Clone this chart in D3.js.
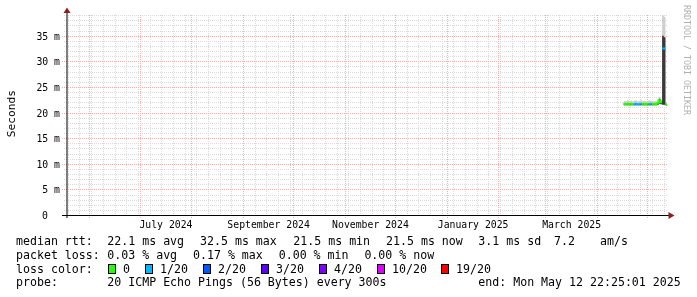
<!DOCTYPE html>
<html>
<head>
<meta charset="utf-8">
<script src="https://cdn.jsdelivr.net/npm/d3@7"></script>
<style>
body { margin: 0; background: #fff; }
svg { will-change: transform; }
text { font-family: "DejaVu Sans Mono", monospace; white-space: pre; }
</style>
</head>
<body>
<svg id="chart" width="697" height="297"></svg>
<script>
// days with data (daily consolidation of the 300s pings)
const days = ['2025-04-17', '2025-04-18', '2025-04-19', '2025-04-20', '2025-04-21', '2025-04-22',
    '2025-04-23', '2025-04-24', '2025-04-25', '2025-04-26', '2025-04-27',
    '2025-04-28', '2025-04-29', '2025-04-30', '2025-05-01',
    '2025-05-02', '2025-05-03',
    '2025-05-04', '2025-05-05', '2025-05-06', '2025-05-07',
    '2025-05-08', '2025-05-09',
    '2025-05-10', '2025-05-11',
    '2025-05-12'];
const medianMs = [21.7, 21.6, 21.7, 21.6, 21.7, 21.6,
    21.6, 21.7, 21.6, 21.6, 21.7,
    21.6, 21.7, 21.6, 21.7,
    21.6, 21.7,
    21.6, 21.7, 21.6, 21.8,
    22.4, 22.0,
    32.5, 32.5,
    21.5];
const lossCount = [0, 0, 0, 0, 0, 0,
    1, 1, 1, 1, 1,
    0, 0, 0, 0,
    1, 1,
    0, 0, 0, 0,
    0, 0,
    1, 1,
    0];
const smokeLoMs = [21.4, 21.4, 21.4, 21.4, 21.4, 21.4,
    21.4, 21.4, 21.4, 21.4, 21.4,
    21.4, 21.4, 21.4, 21.4,
    21.4, 21.4,
    21.4, 21.4, 21.4, 21.5,
    21.7, 21.6,
    21.5, 21.5,
    21.4];
const smokeCoreMs = [21.8, 21.7, 21.8, 21.7, 21.8, 21.7,
    21.7, 21.8, 21.7, 21.7, 21.8,
    21.7, 21.8, 21.7, 21.8,
    21.7, 21.8,
    21.7, 21.8, 21.7, 21.9,
    22.7, 22.2,
    35.0, 34.7,
    21.6];
const smokeHiMs = [22.3, 22.2, 22.4, 22.2, 22.3, 22.2,
    22.3, 22.4, 22.2, 22.3, 22.4,
    22.2, 22.3, 22.2, 22.3,
    22.4, 22.3,
    22.2, 22.3, 22.2, 22.5,
    23.0, 22.6,
    39.0, 38.7,
    22.0];

const yTicksMs = [0, 5, 10, 15, 20, 25, 30, 35];
const monthLabels = ['2024-07', '2024-09', '2024-11', '2025-01', '2025-03'];

const lossLevels = ['0', '1/20', '2/20', '3/20', '4/20', '10/20', '19/20'];
const lossColors = ['#26ff00', '#00b8ff', '#0059ff', '#5e00ff', '#7e00ff', '#dd00ff', '#ff0000'];

const rttLegend = ['median rtt:', '22.1 ms avg', '32.5 ms max', '21.5 ms min', '21.5 ms now', '3.1 ms sd', '7.2', 'am/s'];
const lossLegend = ['packet loss:', '0.03 % avg', '0.17 % max', '0.00 % min', '0.00 % now'];
const probeLegend = ['probe:', '20 ICMP Echo Pings (56 Bytes) every 300s', 'end: Mon May 12 22:25:01 2025'];

const svg = d3.select('#chart');
const parseDay = d3.timeParse('%Y-%m-%d');
const parseMonth = d3.timeParse('%Y-%m');

const start = new Date(2024, 4, 17, 22, 25, 1);
const end = new Date(2025, 4, 12, 22, 25, 1);
const x = d3.scaleTime().domain([start, end]).range([66, 667]);
const y = d3.scaleLinear().domain([0, 39.04]).range([215, 15]);
const crisp = (v) => Math.round(v) + 0.5;

var data = days.map((d, i) => ({
    t: parseDay(d),
    next: i < days.length - 1 ? parseDay(days[i + 1]) : end,
    m: medianMs[i],
    loss: lossCount[i],
    lo: smokeLoMs[i],
    core: smokeCoreMs[i],
    hi: smokeHiMs[i],
}));

// grid
var grid = svg.append('g').attr('fill', 'none').attr('stroke-dasharray', '1,1').attr('stroke-width', 1);
var majorY = y.ticks(8);
grid.selectAll('line.minY')
    .data(y.ticks(40).filter((v) => v > 0 && majorY.indexOf(v) < 0))
    .join('line')
    .attr('x1', 64).attr('x2', 667)
    .attr('y1', (d) => crisp(y(d))).attr('y2', (d) => crisp(y(d)))
    .attr('stroke', '#dadada');
grid.selectAll('line.minX')
    .data(x.ticks(d3.timeWeek))
    .join('line')
    .attr('x1', (d) => crisp(x(d))).attr('x2', (d) => crisp(x(d)))
    .attr('y1', 15).attr('y2', 217)
    .attr('stroke', '#dadada');
grid.selectAll('line.majX')
    .data(x.ticks(d3.timeMonth))
    .join('line')
    .attr('x1', (d) => crisp(x(d))).attr('x2', (d) => crisp(x(d)))
    .attr('y1', 15).attr('y2', 218)
    .attr('stroke', '#f5b0b0');
grid.selectAll('line.majY')
    .data(majorY.filter((v) => v > 0))
    .join('line')
    .attr('x1', 62).attr('x2', 667)
    .attr('y1', (d) => crisp(y(d))).attr('y2', (d) => crisp(y(d)))
    .attr('stroke', '#f5b0b0');

// smoke
var band = (lo, hi) => d3.area()
    .x((p) => x(p.t))
    .y0((p) => y(p[lo]))
    .y1((p) => y(p[hi]));
var flat = data.flatMap((d) => [{ ...d }, { ...d, t: d.next }]);
svg.append('path').attr('d', band('lo', 'hi')(flat)).attr('fill', '#cfcfcf');
svg.append('path').attr('d', band('lo', 'core')(flat)).attr('fill', '#3a3a3a');

// median, coloured by loss
var line = d3.line().x((p) => x(p.t)).y((p) => y(p.v));
var colorOf = (loss) => lossColors[lossLevels.indexOf(loss == 0 ? '0' : loss + '/20')];
svg.append('g').attr('fill', 'none').attr('stroke-width', 2)
    .selectAll('path')
    .data(data)
    .join('path')
    .attr('stroke', (d) => colorOf(d.loss))
    .attr('d', (d, i) => {
        var pts = [{ t: d.t, v: d.m }, { t: d.next, v: d.m }];
        var prev = data[i - 1];
        if (prev && prev.loss == d.loss) pts.unshift({ t: d.t, v: prev.m });
        return line(pts);
    });

// axes
var yAxis = svg.append('g')
    .attr('transform', 'translate(60,0)')
    .call(d3.axisLeft(y).tickValues(yTicksMs).tickSize(0).tickPadding(0)
        .tickFormat((d) => (d == 0 ? '0' : d + ' m')));
yAxis.select('.domain').remove();
yAxis.selectAll('text')
    .attr('x', (d) => (d == 0 ? -12 : 0))
    .attr('dy', '0.36em')
    .attr('fill', '#000')
    .style('font-size', '9.8px')
    .style('font-family', '"DejaVu Sans Mono", monospace');

var midMonth = (s) => {
    var a = parseMonth(s);
    return new Date((+a + +d3.timeMonth.offset(a, 1)) / 2);
};
var xAxis = svg.append('g')
    .attr('transform', 'translate(0,215)')
    .call(d3.axisBottom(x).tickValues(monthLabels.map(midMonth)).tickSize(0)
        .tickFormat(d3.timeFormat('%B %Y')));
xAxis.select('.domain').remove();
xAxis.selectAll('text')
    .attr('y', 12.6)
    .attr('dy', null)
    .attr('fill', '#000')
    .style('font-size', '9.8px')
    .style('font-family', '"DejaVu Sans Mono", monospace');

svg.append('line').attr('x1', 67).attr('x2', 67).attr('y1', 218).attr('y2', 12).attr('stroke', '#000');
svg.append('line').attr('x1', 62).attr('x2', 670).attr('y1', 215.5).attr('y2', 215.5).attr('stroke', '#000');
svg.append('path').attr('d', 'M63.5,13L70.5,13L67,7.5Z').attr('fill', '#8c1f1f');
svg.append('path').attr('d', 'M668.5,212L668.5,219L674.5,215.5Z').attr('fill', '#8c1f1f');

svg.append('text')
    .attr('transform', 'translate(11,113.7) rotate(-90)')
    .attr('text-anchor', 'middle')
    .attr('dominant-baseline', 'central')
    .style('font-size', '11.2px')
    .text('Seconds');

svg.append('text')
    .attr('transform', 'translate(687,5) rotate(90)')
    .attr('dominant-baseline', 'central')
    .attr('fill', '#b0b0b0')
    .style('font-size', '8.3px')
    .text('RRDTOOL / TOBI OETIKER');

// legend
var legend = svg.append('g').style('font-size', '11.6px').attr('fill', '#000');
var addRow = (items, xs, yb) => legend.append('g').selectAll('text')
    .data(items)
    .join('text')
    .attr('x', (d, i) => xs[i])
    .attr('y', yb)
    .text((d) => d);
addRow(rttLegend, [16, 107.3, 200, 293.3, 386, 478.3, 554, 600], 245.3);
addRow(lossLegend, [16, 107.3, 193, 278.7, 364.4], 258.9);
addRow(['loss color:'], [16], 272.6);
addRow(probeLegend, [16, 107.3, 478.3], 286.2);

var boxX = [108.5, 145.5, 203.5, 261.5, 319.5, 377.5, 441.5];
var sw = legend.append('g').selectAll('g')
    .data(lossLevels)
    .join('g')
    .attr('transform', (d, i) => 'translate(' + boxX[i] + ',0)');
sw.append('rect')
    .attr('x', 0).attr('y', 264.5).attr('width', 7).attr('height', 9)
    .attr('fill', (d, i) => lossColors[i])
    .attr('stroke', '#000');
sw.append('text').attr('x', 14.5).attr('y', 272.6).text((d) => d);
</script>
</body>
</html>
